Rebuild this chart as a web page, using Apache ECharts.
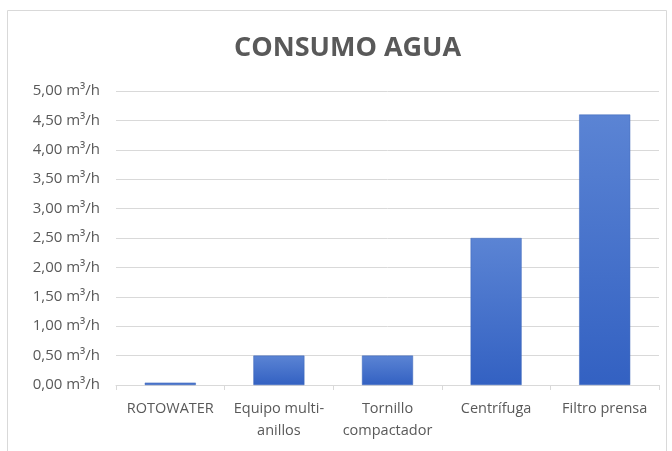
<!DOCTYPE html>
<html>
<head>
<meta charset="utf-8">
<script src="https://cdn.jsdelivr.net/npm/echarts@6/dist/echarts.min.js"></script>
<style>
  html, body { margin: 0; padding: 0; background: #fff; }
  #chart { width: 672px; height: 451px; }
</style>
</head>
<body>
<div id="chart"></div>
<script>
var categories = ["ROTOWATER", "Equipo multi-\nanillos", "Tornillo\ncompactador", "Centrífuga", "Filtro prensa"];
var consumo = [0.04, 0.5, 0.5, 2.5, 4.6];

var chart = echarts.init(document.getElementById("chart"));
var font = "'Open Sans', sans-serif";

var option = {
  animation: false,
  title: {
    text: "CONSUMO AGUA",
    left: 229,
    top: 30,
    textStyle: { fontFamily: font, fontSize: 27, fontWeight: "bold", color: "#595959" }
  },
  graphic: [{
    type: "rect",
    shape: { x: 7.5, y: 10.5, width: 659, height: 460 },
    style: { fill: "none", stroke: "#d9d9d9", lineWidth: 1 },
    silent: true
  }],
  grid: { left: 116, right: 13, top: 91, bottom: 66 },
  xAxis: {
    type: "category",
    data: categories,
    axisLine: { lineStyle: { color: "#d9d9d9" } },
    axisTick: { show: true, length: 5, lineStyle: { color: "#d9d9d9" } },
    axisLabel: { fontFamily: font, fontSize: 14.5, color: "#595959", margin: 13, lineHeight: 22, interval: 0 }
  },
  yAxis: {
    type: "value",
    min: 0,
    max: 5,
    interval: 0.5,
    axisLine: { show: false },
    axisTick: { show: false },
    splitLine: { lineStyle: { color: "#d9d9d9" } },
    axisLabel: {
      fontFamily: font, fontSize: 15, color: "#595959", margin: 16,
      formatter: function(v) { return v.toFixed(2).replace(".", ",") + " m³/h"; }
    }
  },
  series: [{
    type: "bar",
    data: consumo,
    barWidth: "47%",
    itemStyle: {
      borderColor: "#3a64b8",
      borderWidth: 0.5,
      color: new echarts.graphic.LinearGradient(0, 0, 0, 1, [
        { offset: 0, color: "#5b84d4" },
        { offset: 1, color: "#3361c2" }
      ])
    }
  }]
};

chart.setOption(option);
</script>
</body>
</html>
